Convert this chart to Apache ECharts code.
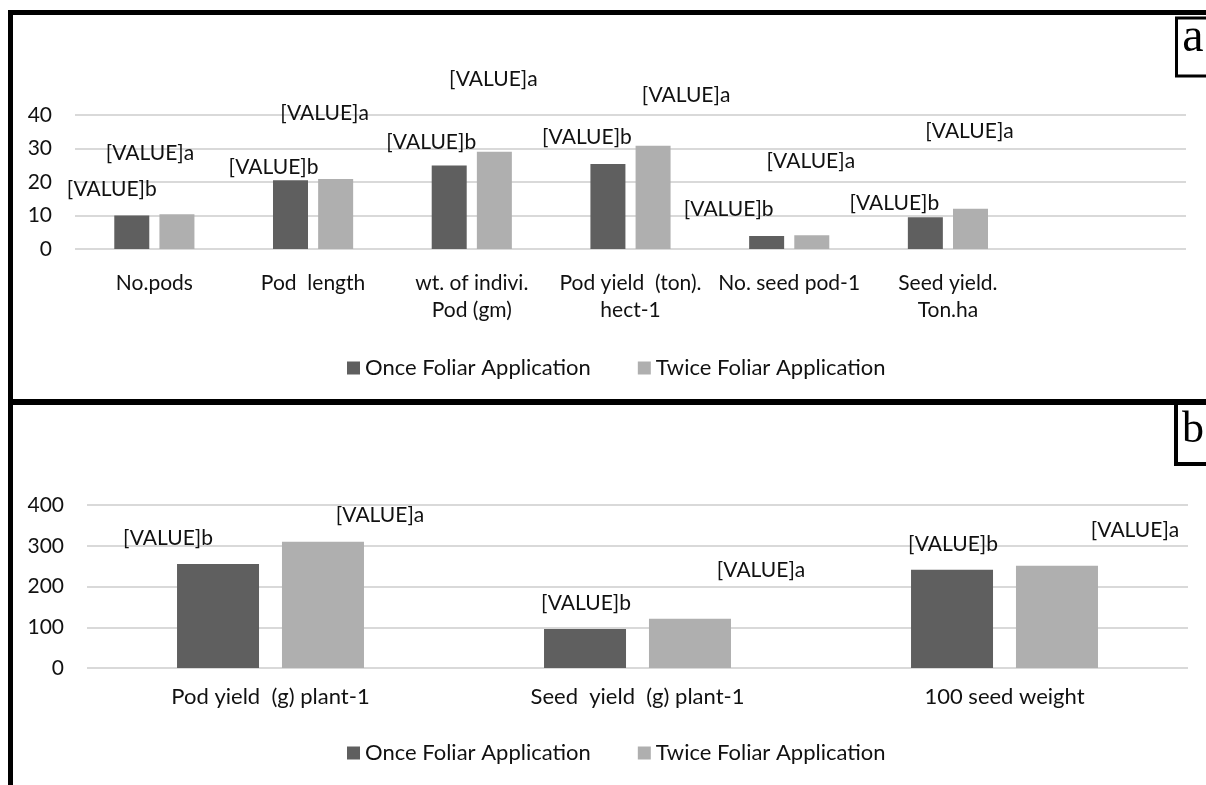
<!DOCTYPE html>
<html><head><meta charset="utf-8">
<script src="https://cdn.jsdelivr.net/npm/echarts@6/dist/echarts.min.js"></script>
<style>html,body{margin:0;padding:0;background:#fff}#c{width:1206px;height:785px}</style>
</head><body><div id="c"></div>
<script>
// ---- data ----
const seriesNames = ['Once Foliar Application', 'Twice Foliar Application'];
const categoriesA = ['No.pods', 'Pod  length', 'wt. of indivi.\nPod (gm)', 'Pod yield  (ton).\nhect-1', 'No. seed pod-1', 'Seed yield.\nTon.ha', ''];
const onceA = [10.0, 20.5, 24.9, 25.4, 3.9, 9.5];
const twiceA = [10.4, 20.9, 29.0, 30.8, 4.1, 12.0];
const lettersOnceA = ['b', 'b', 'b', 'b', 'b', 'b'];
const lettersTwiceA = ['a', 'a', 'a', 'a', 'a', 'a'];
const yTicksA = [0, 10, 20, 30, 40];

const categoriesB = ['Pod yield  (g) plant-1', 'Seed  yield  (g) plant-1', '100 seed weight'];
const onceB = [255, 96, 241];
const twiceB = [310, 121, 251];
const lettersOnceB = ['b', 'b', 'b'];
const lettersTwiceB = ['a', 'a', 'a'];
const yTicksB = [0, 100, 200, 300, 400];

// ---- layout of manually placed labels (pixel nudges) ----
const offOnceA = [[-20, -11], [-17, 2], [-18, -8], [-21, -11], [-38, -11], [-31, 2]];
const offTwiceA = [[-27, -45], [-11, -50], [-1, -57], [33, -35], [-1, -59], [-1, -62]];
const offOnceB = [[-50, -10], [1, -10], [1, -10]];
const offTwiceB = [[57, -11], [71, -33], [78, -20]];

const FONT = 'Lato';
const FS = 21;
const TXT = '#111';
const C1 = '#5f5f5f', C2 = '#afafaf';

function items(vals, letters, offs) {
  return vals.map((v, i) => ({
    value: v,
    label: { offset: offs[i], formatter: '[VALUE]' + letters[i] }
  }));
}
function yAxisOf(ticks, gridIndex) {
  return {
    type: 'value', gridIndex: gridIndex,
    min: ticks[0], max: ticks[ticks.length - 1], interval: ticks[1] - ticks[0],
    axisLine: { show: false }, axisTick: { show: false },
    axisLabel: { fontFamily: FONT, fontSize: FS, color: TXT, margin: 23 },
    splitLine: { lineStyle: { color: '#d9d9d9', width: 2 } }
  };
}
const labelBase = { show: true, position: 'top', distance: 5, fontFamily: FONT, fontSize: FS, color: TXT };
const legendText = { fontFamily: FONT, fontSize: 22, color: TXT };

const chart = echarts.init(document.getElementById('c'), null, { renderer: 'canvas' });
chart.setOption({
  animation: false,
  backgroundColor: '#fff',
  grid: [
    { left: 75, top: 115, width: 1111, height: 134 },
    { left: 87, top: 505, width: 1101, height: 163 }
  ],
  xAxis: [
    { type: 'category', gridIndex: 0, data: categoriesA,
      axisLine: { show: false }, axisTick: { show: false },
      axisLabel: { fontFamily: FONT, fontSize: FS, color: TXT, margin: 21, lineHeight: 27, interval: 0 } },
    { type: 'category', gridIndex: 1, data: categoriesB,
      axisLine: { show: false }, axisTick: { show: false },
      axisLabel: { fontFamily: FONT, fontSize: 22, color: TXT, margin: 18, interval: 0 } }
  ],
  yAxis: [yAxisOf(yTicksA, 0), yAxisOf(yTicksB, 1)],
  legend: [
    { data: seriesNames, left: 342, top: 352, icon: 'rect', itemWidth: 13, itemHeight: 13, itemGap: 47,
      textStyle: legendText },
    { data: seriesNames, left: 342, top: 737, icon: 'rect', itemWidth: 13, itemHeight: 13, itemGap: 47,
      textStyle: legendText }
  ],
  series: [
    { name: seriesNames[0], type: 'bar', xAxisIndex: 0, yAxisIndex: 0, barWidth: 35, barGap: '29%',
      itemStyle: { color: C1 }, label: labelBase, data: items(onceA, lettersOnceA, offOnceA) },
    { name: seriesNames[1], type: 'bar', xAxisIndex: 0, yAxisIndex: 0, barWidth: 35, barGap: '29%',
      itemStyle: { color: C2 }, label: labelBase, data: items(twiceA, lettersTwiceA, offTwiceA) },
    { name: seriesNames[0], type: 'bar', xAxisIndex: 1, yAxisIndex: 1, barWidth: 82, barGap: '28%',
      itemStyle: { color: C1 }, label: labelBase, data: items(onceB, lettersOnceB, offOnceB) },
    { name: seriesNames[1], type: 'bar', xAxisIndex: 1, yAxisIndex: 1, barWidth: 82, barGap: '28%',
      itemStyle: { color: C2 }, label: labelBase, data: items(twiceB, lettersTwiceB, offTwiceB) }
  ],
  graphic: [
    { type: 'line', shape: { x1: 8, y1: 12.5, x2: 1210, y2: 12.5 }, style: { stroke: '#000', lineWidth: 5 } },
    { type: 'line', shape: { x1: 10.5, y1: 10, x2: 10.5, y2: 790 }, style: { stroke: '#000', lineWidth: 5 } },
    { type: 'line', shape: { x1: 8, y1: 402, x2: 1210, y2: 402 }, style: { stroke: '#000', lineWidth: 6 } },
    { type: 'rect', shape: { x: 1176.5, y: 18, width: 40, height: 58 }, style: { fill: '#fff', stroke: '#000', lineWidth: 3 } },
    { type: 'text', x: 1193, y: 62, style: { text: 'a', font: '48px "Liberation Serif", serif', fill: '#000', textAlign: 'center', textVerticalAlign: 'bottom' } },
    { type: 'rect', shape: { x: 1176, y: 403, width: 40, height: 61 }, style: { fill: '#fff', stroke: '#000', lineWidth: 4 } },
    { type: 'text', x: 1193, y: 452, style: { text: 'b', font: '44px "Liberation Serif", serif', fill: '#000', textAlign: 'center', textVerticalAlign: 'bottom' } }
  ]
});
</script></body></html>
